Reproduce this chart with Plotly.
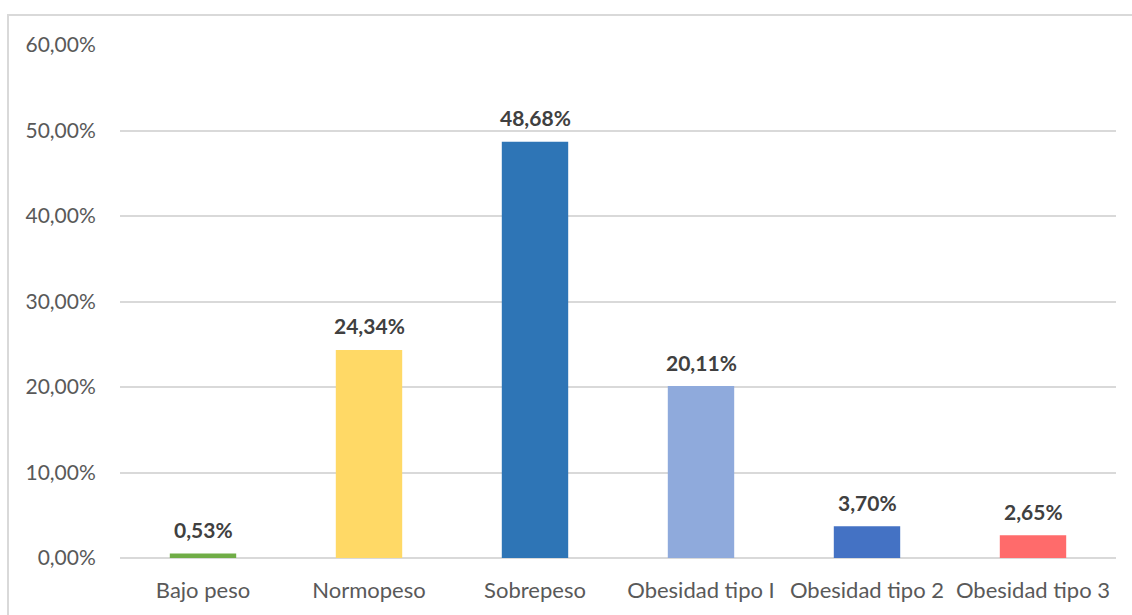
import plotly.graph_objects as go

categories = ["Bajo peso", "Normopeso", "Sobrepeso", "Obesidad tipo I", "Obesidad tipo 2", "Obesidad tipo 3"]
values = [0.53, 24.34, 48.68, 20.11, 3.70, 2.65]
colors = ["#70AD47", "#FFD966", "#2E75B6", "#8FAADC", "#4472C4", "#FF6B6B"]
y_ticks = [0, 10, 20, 30, 40, 50, 60]

W, H = 1132, 615
ML, MR, MT, MB = 120, 16, 45, 57

fig = go.Figure(go.Bar(
    x=categories,
    y=values,
    marker=dict(color=colors, line=dict(width=0)),
    width=0.4,
    hoverinfo="skip",
))

# value labels above each bar
for c, v in zip(categories, values):
    fig.add_annotation(
        x=c, y=v, text=f"{v:.2f}%".replace(".", ","),
        showarrow=False, yanchor="middle", yshift=24,
        font=dict(family="Lato", size=21, color="#404040", weight="bold"),
    )

# outer chart frame
pw, ph = W - ML - MR, H - MT - MB
fig.add_shape(
    type="rect", xref="paper", yref="paper",
    x0=(8 - ML) / pw, x1=(W + 20 - ML) / pw,
    y0=-(MB + 20) / ph, y1=(H - MB - 15) / ph,
    line=dict(color="#D9D9D9", width=2), fillcolor="rgba(0,0,0,0)", layer="below",
)

fig.update_layout(
    width=W, height=H,
    margin=dict(l=ML, r=MR, t=MT, b=MB),
    paper_bgcolor="white", plot_bgcolor="white",
    showlegend=False,
    separators=",.",
    font=dict(family="Lato", size=21, color="#595959"),
    xaxis=dict(
        showgrid=False, showline=False, zeroline=False,
        ticks="outside", ticklen=13, tickcolor="rgba(0,0,0,0)",
        tickfont=dict(size=22, color="#595959"),
        fixedrange=True,
    ),
    yaxis=dict(
        range=[0, 60], tickvals=y_ticks,
        ticktext=[f"{t:.2f}%".replace(".", ",") for t in y_ticks],
        showgrid=True, gridcolor="#D9D9D9", gridwidth=1.5,
        zeroline=True, zerolinecolor="#D9D9D9", zerolinewidth=1.5,
        showline=False,
        ticks="outside", ticklen=19, tickcolor="rgba(0,0,0,0)",
        tickfont=dict(size=21, color="#595959"),
        fixedrange=True,
    ),
)

fig.write_html("out.html")
